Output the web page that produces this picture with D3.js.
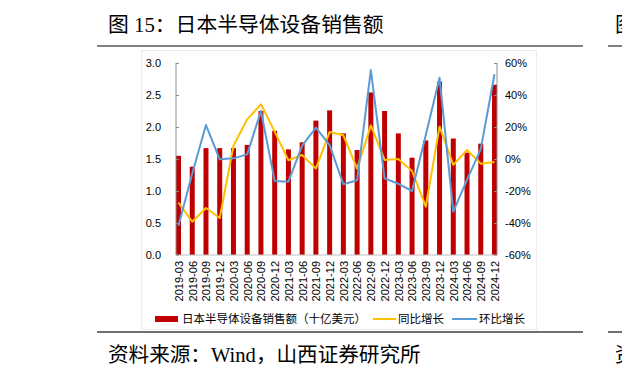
<!DOCTYPE html>
<html><head><meta charset="utf-8">
<script src="https://cdn.jsdelivr.net/npm/d3@7"></script>
<style>html,body{margin:0;padding:0;background:#fff;}svg{display:block;}</style>
</head><body>
<svg id="c" width="622" height="378"></svg>
<script>
const categories = ["2019-03","2019-06","2019-09","2019-12","2020-03","2020-06","2020-09","2020-12","2021-03","2021-06","2021-09","2021-12","2022-03","2022-06","2022-09","2022-12","2023-03","2023-06","2023-09","2023-12","2024-03","2024-06","2024-09","2024-12"];
const sales = [1.55,1.38,1.67,1.67,1.67,1.72,2.25,1.94,1.65,1.76,2.10,2.26,1.90,1.64,2.54,2.25,1.90,1.52,1.79,2.71,1.82,1.60,1.74,2.66];
const yoy = [-27.3,-39.2,-30.6,-36.9,8.3,24.8,34.2,17.1,-0.8,2.5,-6.0,16.9,14.8,-6.0,21.0,-0.6,0.0,-7.5,-29.8,20.2,-3.7,5.6,-2.9,-1.9];
const qoq = [-41.7,-9.0,21.2,-0.2,0.4,2.9,30.0,-13.7,-14.2,8.3,19.6,8.7,-15.8,-13.3,55.6,-12.1,-15.5,-20.0,15.0,50.8,-32.9,-13.0,6.2,53.0];
const leftTicks = [0,0.5,1.0,1.5,2.0,2.5,3.0];
const rightTicks = [-60,-40,-20,0,20,40,60];
const legendLabels = ["日本半导体设备销售额（十亿美元）","同比增长","环比增长"];
const titleText = "图 15：日本半导体设备销售额";
const sourceText = "资料来源：Wind，山西证券研究所";

const svg = d3.select("#c");
const latin = "'Liberation Sans', Arial, 'Noto Sans CJK SC', sans-serif";
const serif = "'Liberation Serif', 'Noto Sans CJK SC', serif";
const RED = "#C00000", YEL = "#FFC000", BLUE = "#5B9BD5";

// title & frame lines
svg.append("text").attr("x",108).attr("y",32).attr("font-family",serif).attr("font-size",20.8).attr("fill","#000").text(titleText);
svg.append("text").attr("x",615).attr("y",32).attr("font-family",serif).attr("font-size",20.8).attr("fill","#000").text("图");
svg.append("line").attr("x1",97).attr("x2",583).attr("y1",46).attr("y2",46).attr("stroke","#7f7f7f").attr("stroke-width",2);
svg.append("line").attr("x1",608).attr("x2",622).attr("y1",46).attr("y2",46).attr("stroke","#7f7f7f").attr("stroke-width",2);
svg.append("rect").attr("x",141.5).attr("y",50.5).attr("width",395).attr("height",279).attr("fill","none").attr("stroke","#ececec");
svg.append("line").attr("x1",97).attr("x2",583).attr("y1",332).attr("y2",332).attr("stroke","#404040").attr("stroke-width",1.5);
svg.append("line").attr("x1",608).attr("x2",622).attr("y1",332).attr("y2",332).attr("stroke","#404040").attr("stroke-width",1.5);
svg.append("text").attr("x",108).attr("y",362).attr("font-family",serif).attr("font-size",20.6).attr("fill","#000").text(sourceText);
svg.append("text").attr("x",615).attr("y",362).attr("font-family",serif).attr("font-size",20.6).attr("fill","#000").text("资");

// scales
const x = d3.scalePoint().domain(categories).range([178.5,494.5]);
const yL = d3.scaleLinear().domain([0,3]).range([255,63]);
const yR = d3.scaleLinear().domain([-60,60]).range([255,63]);

// bars
svg.append("g").selectAll("rect").data(sales).join("rect")
  .attr("x",(d,i)=>x(categories[i])-2.5).attr("width",5)
  .attr("y",d=>yL(d)).attr("height",d=>yL(0)-yL(d)).attr("fill",RED);

// axes
const axL = svg.append("g").attr("transform","translate(176,0)")
  .call(d3.axisRight(yL).tickValues(leftTicks).tickSize(3).tickFormat(d3.format(".1f")));
axL.select(".domain").attr("stroke","#8c8c8c").attr("d","M0,63V255");
axL.selectAll(".tick line").attr("stroke","#8c8c8c");
axL.selectAll("text").attr("x",-15).attr("text-anchor","end").attr("font-family",latin).attr("font-size",11).attr("fill","#000");

const axR = svg.append("g").attr("transform","translate(497,0)")
  .call(d3.axisLeft(yR).tickValues(rightTicks).tickSize(3).tickFormat(d=>d+"%"));
axR.select(".domain").attr("stroke","#8c8c8c").attr("d","M0,63V255");
axR.selectAll(".tick line").attr("stroke","#8c8c8c");
axR.selectAll("text").attr("x",8).attr("text-anchor","start").attr("font-family",latin).attr("font-size",11).attr("fill","#000");

const axB = svg.append("g").attr("transform","translate(0,255)")
  .call(d3.axisBottom(x).tickSize(0));
axB.select(".domain").attr("stroke","#bfbfbf").attr("d","M176,0H497");
axB.selectAll("text").attr("transform","rotate(-90)").attr("x",-6).attr("y",0).attr("dy","0.35em")
  .attr("text-anchor","end").attr("font-family",latin).attr("font-size",11).attr("fill","#000");

// lines
const lineY = d3.line().x((d,i)=>x(categories[i])).y(d=>yR(d));
svg.append("path").datum(yoy).attr("d",lineY).attr("fill","none").attr("stroke",YEL).attr("stroke-width",2).attr("stroke-linejoin","round");
svg.append("path").datum(qoq).attr("d",lineY).attr("fill","none").attr("stroke",BLUE).attr("stroke-width",2).attr("stroke-linejoin","round");

// legend
const lg = svg.append("g").attr("font-family",latin).attr("font-size",11.5).attr("fill","#000");
lg.append("rect").attr("x",155).attr("y",316).attr("width",23).attr("height",6).attr("fill",RED);
lg.append("text").attr("x",182).attr("y",323).text(legendLabels[0]);
lg.append("line").attr("x1",373).attr("x2",396).attr("y1",319).attr("y2",319).attr("stroke",YEL).attr("stroke-width",2);
lg.append("text").attr("x",398).attr("y",323).text(legendLabels[1]);
lg.append("line").attr("x1",452).attr("x2",477).attr("y1",319).attr("y2",319).attr("stroke",BLUE).attr("stroke-width",2);
lg.append("text").attr("x",479).attr("y",323).text(legendLabels[2]);
</script>
</body></html>
